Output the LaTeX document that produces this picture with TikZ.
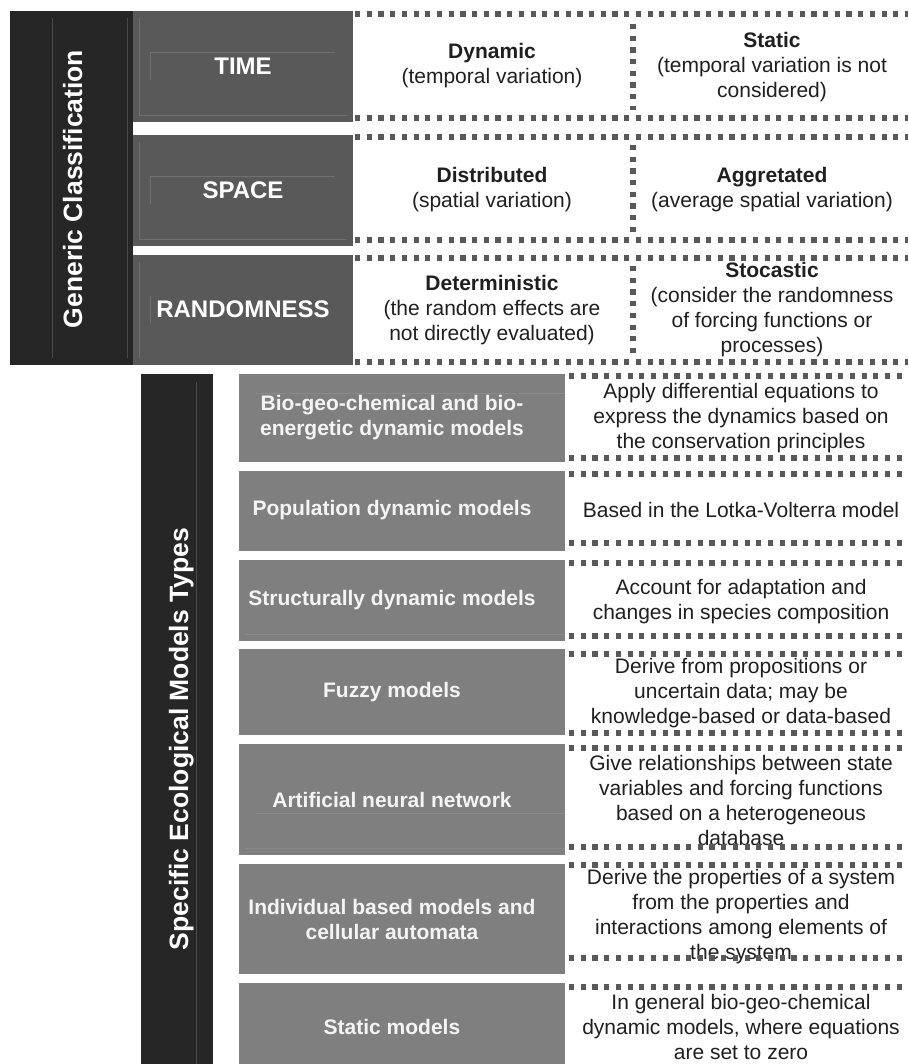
\documentclass[tikz,border=0pt]{standalone}
\usepackage{fontspec}
\setmainfont{Liberation Sans}
\definecolor{darkc}{HTML}{262626}
\definecolor{rowc}{HTML}{595959}
\definecolor{boxc}{HTML}{7F7F7F}
\definecolor{dotc}{HTML}{595959}
\definecolor{txtc}{HTML}{1F1F1F}
\definecolor{boxtxt}{HTML}{F4F4F4}
\definecolor{fineA}{HTML}{4A4A4A}
\definecolor{fineB}{HTML}{707070}
\definecolor{fineC}{HTML}{8A8A8A}
\begin{document}
\begin{tikzpicture}[x=1pt,y=-1pt,
  rect/.style={draw=none,inner sep=0pt,outer sep=0pt,anchor=north west},
  panel/.style={rect,fill=darkc},
  rowbox/.style={rect,fill=rowc},
  mbox/.style={rect,fill=boxc},
  vtitle/.style={rotate=90,anchor=base,text=white,inner sep=0pt,font=\fontsize{26.5}{30}\selectfont\bfseries},
  hdr/.style={text=white,inner sep=0pt,font=\fontsize{24}{28}\selectfont\bfseries},
  celltxt/.style={align=center,text=txtc,inner sep=0pt,font=\fontsize{21}{25}\selectfont},
  boxtext/.style={align=center,text=boxtxt,inner sep=0pt,font=\fontsize{21}{25}\selectfont\bfseries},
  dots/.style={draw=dotc,line width=5.2pt,dash pattern=on 5.2pt off 6.5pt},
  fineline/.style={line width=0.7pt}
]
\useasboundingbox (0,0) rectangle (908,1064);

% ---------- Generic classification ----------
\node[panel,minimum width=123pt,minimum height=354pt] (gc) at (10,11) {};
\draw[fineline,draw=fineA] (52,18) -- (52,358);
\draw[fineline,draw=fineA] (127,18) -- (127,358);
\node[vtitle] (gct) at (82,189) {Generic Classification};

\node[rowbox,minimum width=220pt,minimum height=111pt] (r1) at (133,11) {};
\node[rowbox,minimum width=220pt,minimum height=111pt] (r2) at (133,135) {};
\node[rowbox,minimum width=220pt,minimum height=110pt] (r3) at (133,255) {};

% fine decorative lines in rows
\draw[fineline,draw=fineB] (139,18) -- (139,115) -- (347,115);
\draw[fineline,draw=fineB] (150,80) -- (150,52) -- (335,52);
\draw[fineline,draw=fineB] (139,142) -- (139,239) -- (347,239);
\draw[fineline,draw=fineB] (150,204) -- (150,176) -- (335,176);
\draw[fineline,draw=fineB] (139,262) -- (139,358);
\draw[fineline,draw=fineB] (150,296) -- (150,323);

\node[hdr] (time) at (243,66) {TIME};
\node[hdr] (space) at (243,190) {SPACE};
\node[hdr] (rand) at (243,309) {RANDOMNESS};

\node[celltxt] (dyn) at (492,66) {\textbf{Dynamic}\\(temporal variation)};
\node[celltxt] (sta) at (772,67) {\textbf{Static}\\(temporal variation is not\\considered)};
\node[celltxt] (dis) at (492,190) {\textbf{Distributed}\\(spatial variation)};
\node[celltxt] (agg) at (772,190) {\textbf{Aggretated}\\(average spatial variation)};
\node[celltxt] (det) at (492,310) {\textbf{Deterministic}\\(the random effects are\\not directly evaluated)};
\node[celltxt] (sto) at (772,310) {\textbf{Stocastic}\\(consider the randomness\\of forcing functions or\\processes)};

% dotted borders, top section
\foreach \yy in {14,118,137,240,258,362}
  \draw[dots] (355,\yy) -- (908,\yy);
\draw[dots] (633,24) -- (633,110);
\draw[dots] (633,145) -- (633,234);
\draw[dots] (633,266) -- (633,356);

% ---------- Specific models ----------
\node[panel,minimum width=72pt,minimum height=690pt] (sp) at (141,374) {};
\draw[fineline,draw=fineA] (196,382) -- (196,1064);
\node[vtitle] (spt) at (188,739) {Specific Ecological Models Types};

\node[mbox,minimum width=326pt,minimum height=88pt] (b1) at (239,374) {};
\node[mbox,minimum width=326pt,minimum height=80pt] (b2) at (239,471) {};
\node[mbox,minimum width=326pt,minimum height=81pt] (b3) at (239,560) {};
\node[mbox,minimum width=326pt,minimum height=86pt] (b4) at (239,649) {};
\node[mbox,minimum width=326pt,minimum height=111pt] (b5) at (239,744) {};
\node[mbox,minimum width=326pt,minimum height=110pt] (b6) at (239,864) {};
\node[mbox,minimum width=326pt,minimum height=81pt] (b7) at (239,983) {};

\draw[fineline,draw=fineC] (256,393) -- (565,393);
\draw[fineline,draw=fineC] (245,634) -- (565,634);
\draw[fineline,draw=fineC] (256,813) -- (565,813);
\draw[fineline,draw=fineC] (245,848) -- (565,848);

\node[boxtext] (m1) at (392,418) {Bio-geo-chemical and bio-\\energetic dynamic models};
\node[boxtext] (m2) at (392,510) {Population dynamic models};
\node[boxtext] (m3) at (392,600) {Structurally dynamic models};
\node[boxtext] (m4) at (392,692) {Fuzzy models};
\node[boxtext] (m5) at (392,800) {Artificial neural network};
\node[boxtext] (m6) at (392,919) {Individual based models and\\cellular automata};
\node[boxtext] (m7) at (392,1027) {Static models};

\node[celltxt] (d1) at (741,418) {Apply differential equations to\\express the dynamics based on\\the conservation principles};
\node[celltxt] (d2) at (741,510) {Based in the Lotka-Volterra model};
\node[celltxt] (d3) at (741,602) {Account for adaptation and\\changes in species composition};
\node[celltxt] (d4) at (741,693) {Derive from propositions or\\uncertain data; may be\\knowledge-based or data-based};
\node[celltxt] (d5) at (741,800) {Give relationships between state\\variables and forcing functions\\based on a heterogeneous\\database};
\node[celltxt] (d6) at (741,917) {Derive the properties of a system\\from the properties and\\interactions among elements of\\the system};
\node[celltxt] (d7) at (741,1027) {In general bio-geo-chemical\\dynamic models, where equations\\are set to zero};

\foreach \yy in {376,458,474,543,563,636,654,733,748,847,865,958,987}
  \draw[dots] (569,\yy) -- (908,\yy);
\end{tikzpicture}
\end{document}
